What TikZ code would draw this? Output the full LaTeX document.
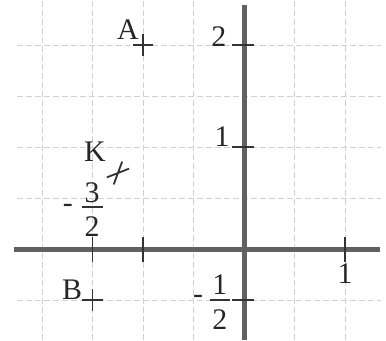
\documentclass[tikz,border=0pt]{standalone}
\usepackage{fontspec}
\setmainfont{Liberation Serif}
\begin{document}
\begin{tikzpicture}[x=101bp,y=102bp,
  lbl/.style={font=\fontsize{30}{36}\selectfont, inner sep=0pt, text=black!85},
  gridline/.style={draw=black!18, line width=0.7bp, dash pattern=on 6bp off 3bp},
  axis/.style={draw=black!62, line width=5bp},
  tickmark/.style={draw=black!80, line width=1.8bp},
  crossmark/.style={draw=black!80, line width=1.8bp},
  fracbar/.style={draw=black!80, line width=1.6bp}]
\useasboundingbox[fill=white] (-2.4158,-0.8922) rectangle (1.4059,2.4412);
% grid
\foreach \gx in {-2,-1.5,-1,-0.5,0.5,1}
  \draw[gridline] (\gx,-0.8922) -- (\gx,2.4412);
\foreach \gy in {-0.5,0.5,1,1.5,2}
  \draw[gridline] (-2.25,\gy) -- (1.36,\gy);
% axes
\draw[axis] (-2.277,0) -- (1.347,0);
\draw[axis] (0,-0.8922) -- (0,2.392);
% ticks
\foreach \ty in {2,1,-0.5}
  \draw[tickmark] (-0.115,\ty) -- (0.1,\ty);
\foreach \tx in {-1.5,-1,1}
  \draw[tickmark] (\tx,-0.13) -- (\tx,0.12);
% crosses
\draw[crossmark] (-1.1,2) -- (-0.9,2) (-1,1.89) -- (-1,2.11);
\draw[crossmark] (-1.6,-0.5) -- (-1.4,-0.5) (-1.5,-0.61) -- (-1.5,-0.39);
\draw[crossmark] (-1.358,0.702) -- (-1.138,0.788) (-1.290,0.633) -- (-1.206,0.857);
% point labels
\node[lbl] (labA) at (-1.149,2.15) {A};
\node[lbl] (labK) at (-1.475,0.95) {K};
\node[lbl] (labB) at (-1.703,-0.40) {B};
% axis labels
\node[lbl] (ly2) at (-0.248,2.078) {2};
\node[lbl] (ly1) at (-0.218,1.098) {1};
\node[lbl] (lx1) at (1.0,-0.245) {1};
% -3/2
\node[lbl] (m32) at (-1.743,0.40) {-};
\node[lbl] (n32) at (-1.505,0.555) {3};
\node[lbl] (d32) at (-1.505,0.215) {2};
\draw[fracbar] (-1.604,0.412) -- (-1.396,0.412);
% -1/2
\node[lbl] (m12) at (-0.455,-0.49) {-};
\node[lbl] (n12) at (-0.238,-0.35) {1};
\node[lbl] (d12) at (-0.238,-0.69) {2};
\draw[fracbar] (-0.337,-0.5) -- (-0.139,-0.5);
\end{tikzpicture}
\end{document}
